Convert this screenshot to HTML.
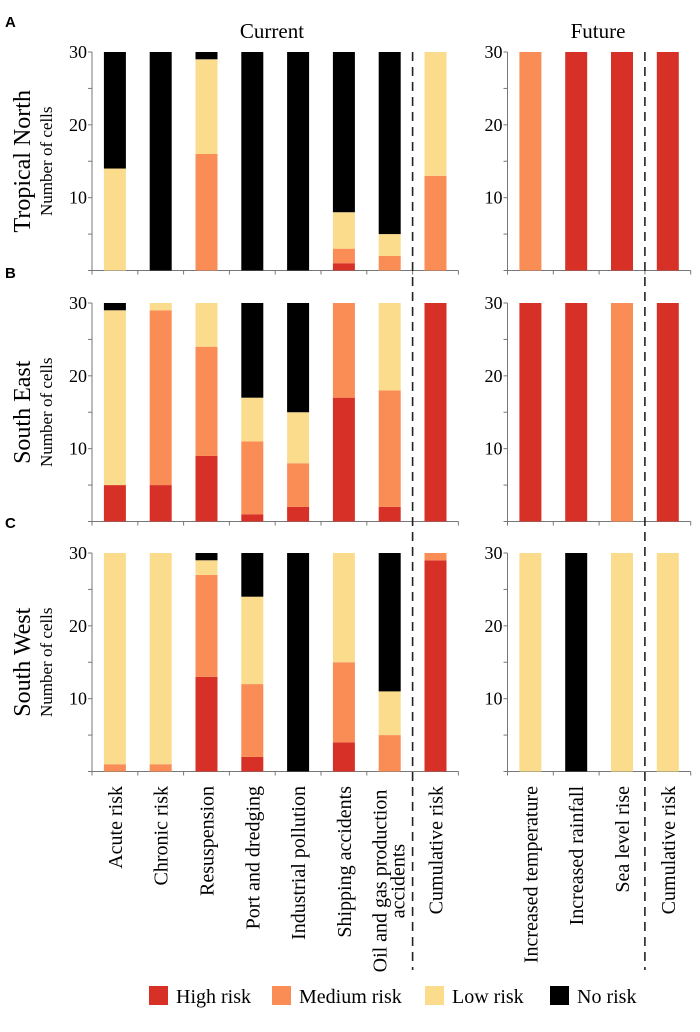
<!DOCTYPE html>
<html><head><meta charset="utf-8"><style>
html,body{margin:0;padding:0;background:#fff;}
svg text{font-family:"Liberation Serif","Times New Roman",serif;}
svg text.sans{font-family:"Liberation Sans",Arial,sans-serif;}
</style></head><body>
<svg id="chart" width="700" height="1027" viewBox="0 0 700 1027" xmlns="http://www.w3.org/2000/svg" font-family="Liberation Serif, serif">
<text x="272" y="38" font-size="21" text-anchor="middle">Current</text>
<text x="598" y="38" font-size="21" text-anchor="middle">Future</text>
<g id="panels"></g>
<g id="labels"></g>
<g id="legend"></g>
</svg>
<script>
const curCats = ["Acute risk","Chronic risk","Resuspension","Port and dredging","Industrial pollution","Shipping accidents","Oil and gas production|accidents","Cumulative risk"];
const futCats = ["Increased temperature","Increased rainfall","Sea level rise","Cumulative risk"];
const regions = ["Tropical North","South East","South West"];
const panelLetters = ["A","B","C"];
const levels = ["High risk","Medium risk","Low risk","No risk"];
const colors = ["#d73127","#fa8c56","#fbdc8d","#000000"];
// [high, medium, low, none] per category
const curA = [[0,0,14,16],[0,0,0,30],[0,16,13,1],[0,0,0,30],[0,0,0,30],[1,2,5,22],[0,2,3,25],[0,13,17,0]];
const futA = [[0,30,0,0],[30,0,0,0],[30,0,0,0],[30,0,0,0]];
const curB = [[5,0,24,1],[5,24,1,0],[9,15,6,0],[1,10,6,13],[2,6,7,15],[17,13,0,0],[2,16,12,0],[30,0,0,0]];
const futB = [[30,0,0,0],[30,0,0,0],[0,30,0,0],[30,0,0,0]];
const curC = [[0,1,29,0],[0,1,29,0],[13,14,2,1],[2,10,12,6],[0,0,0,30],[4,11,15,0],[0,5,6,19],[29,1,0,0]];
const futC = [[0,0,30,0],[0,0,0,30],[0,0,30,0],[0,0,30,0]];
const yTicks = [10,20,30];
const curData=[curA,curB,curC], futData=[futA,futB,futC];

const NS="http://www.w3.org/2000/svg";
function mk(tag,attrs,parent){const e=document.createElementNS(NS,tag);for(const k in attrs)e.setAttribute(k,attrs[k]);parent.appendChild(e);return e;}
const panels=document.getElementById('panels');
const top0=[52,303,553], H=218.5, SLOT=45.8, BW=22;
const curX0=92, futX0=507.5;
function yScale(p,v){return top0[p]+H-v/30*H;}
function xCat(x0,i){return x0+SLOT*i+SLOT/2;}

for(let p=0;p<3;p++){
  const g=mk('g',{},panels);
  
  
  const base=yScale(p,0);
  const lt=mk('text',{x:5,y:top0[p]-25,'font-size':15,'font-weight':'bold','class':'sans'},g);
  lt.textContent=panelLetters[p];
  
  
  const cy=top0[p]+H/2;
  const rt=mk('text',{x:0,y:0,'font-size':24,'text-anchor':'middle',transform:`translate(30,${cy}) rotate(-90)`},g);
  rt.textContent=regions[p];
  
  
  const nt=mk('text',{x:0,y:0,'font-size':17,'text-anchor':'middle',transform:`translate(52,${cy}) rotate(-90)`},g);
  nt.textContent='Number of cells';
  
  
  [[curX0,curCats.length,curData[p]],[futX0,futCats.length,futData[p]]].forEach(([x0,n,data],side)=>{
    mk('line',{x1:x0,y1:top0[p],x2:x0,y2:base,stroke:'#777','stroke-width':1},g);
    mk('line',{x1:x0-4,y1:base,x2:x0+SLOT*n,y2:base,stroke:'#777','stroke-width':1},g);
    for(let i=0;i<=n;i++) mk('line',{x1:x0+SLOT*i,y1:base,x2:x0+SLOT*i,y2:base+4,stroke:'#777'},g);
    for(let v=5;v<=30;v+=5) mk('line',{x1:x0-4,y1:yScale(p,v),x2:x0,y2:yScale(p,v),stroke:'#777'},g);
    yTicks.forEach(v=>{const t=mk('text',{x:x0-5,y:yScale(p,v)+6,'font-size':18,'text-anchor':'end'},g);t.textContent=v;
      
      });
    data.forEach((vals,i)=>{
      let acc=0;const cx=xCat(x0,i);
      vals.forEach((v,k)=>{ if(v<=0)return;
        const r=mk('rect',{x:cx-BW/2,y:yScale(p,acc+v),width:BW,height:yScale(p,acc)-yScale(p,acc+v),fill:colors[k]},g);
        
        
        acc+=v;});
    });
  });
}
// dashed separators
[curX0+SLOT*7, futX0+SLOT*3].forEach(x=>{
  const l=mk('line',{x1:x,y1:52,x2:x,y2:970,stroke:'#222','stroke-width':1.6,'stroke-dasharray':'9,6'},panels);
  
  
});
// category labels
const lab=document.getElementById('labels');
function catLabel(x,txt){
  const parts=txt.split('|');
  const t=mk('text',{x:0,y:0,'font-size':20,'text-anchor':'end',transform:`translate(${x},786) rotate(-90)`},lab);
  
  
  parts.forEach((s,j)=>{const ts=mk('tspan',{x:0,dy:j==0?(parts.length>1?-3:7):18},t);ts.textContent=s;});
  if(parts.length>1){t.setAttribute('text-anchor','middle');t.setAttribute('transform',`translate(${x},881) rotate(-90)`);}
}
curCats.forEach((c,i)=>catLabel(xCat(curX0,i),c));
futCats.forEach((c,i)=>catLabel(xCat(futX0,i),c));
// legend
const leg=document.getElementById('legend');
const legX=[149,272,425,550];
levels.forEach((name,k)=>{
  const r=mk('rect',{x:legX[k],y:986,width:19,height:19,fill:colors[k]},leg);
  
  
  const t=mk('text',{x:legX[k]+27,y:1003,'font-size':20},leg);
  t.textContent=name;
  
  
});
</script>
</body></html>
